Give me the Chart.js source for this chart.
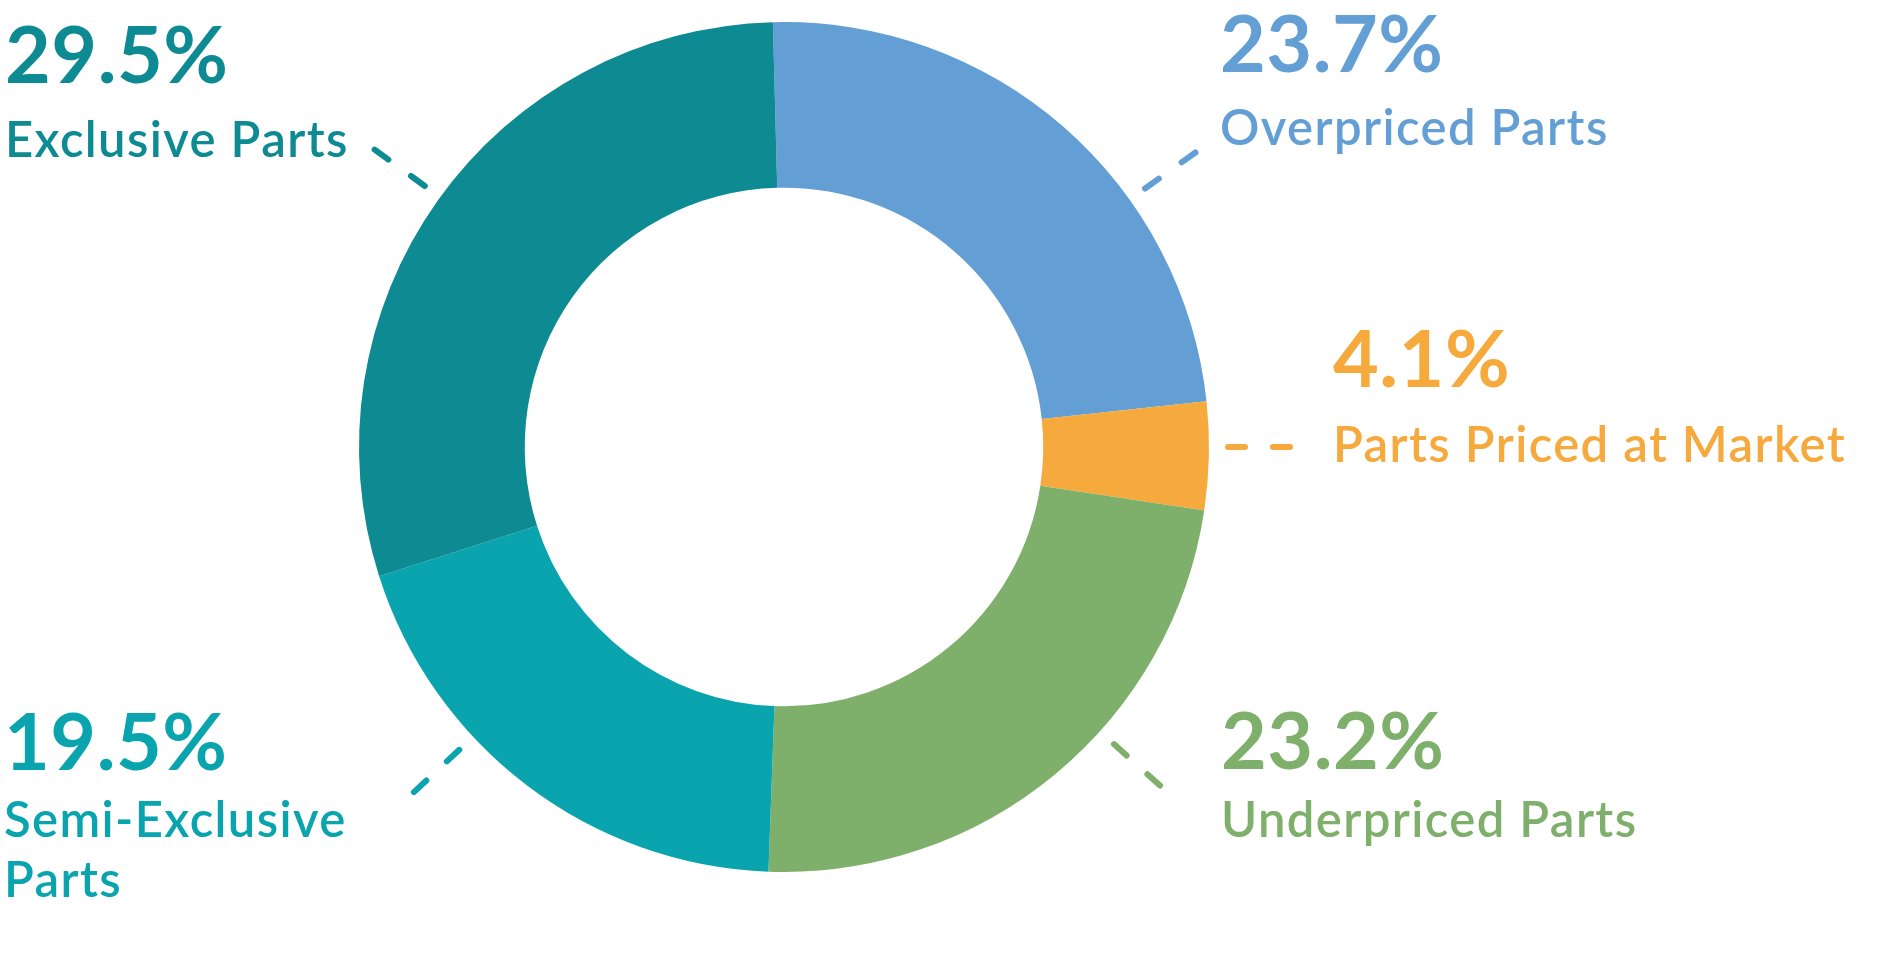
<!DOCTYPE html>
<html>
<head>
<meta charset="utf-8">
<title>Parts pricing breakdown</title>
<script src="https://cdn.jsdelivr.net/npm/chart.js@4.4.1/dist/chart.umd.min.js"></script>
<style>
  html, body { margin: 0; padding: 0; background: #fff; }
  #wrap { position: relative; width: 1881px; height: 955px; }
</style>
</head>
<body>
<div id="wrap"><canvas id="partsChart"></canvas></div>
<script>
// data, clockwise from 12 o'clock
var categories = ['Overpriced Parts', 'Parts Priced at Market', 'Underpriced Parts', ['Semi-Exclusive', 'Parts'], 'Exclusive Parts'];
var shares = [23.7, 4.1, 23.2, 19.5, 29.5];
var colors = ['#639fd4', '#f6a93c', '#7eaf6b', '#0aa4af', '#0d8a92'];

// callout layout: [x, percent baseline, label baseline] and leader angle (deg, clockwise from top)
var calloutPos = [[1220, 72, 145], [1333, 387, 462], [1221, 769, 837], [4, 770, 837], [5, 83, 157]];
var leaderAngles = [54.4, 90, 132, 227, 306];

var callouts = {
    id: 'callouts',
    afterDraw: function (chart) {
        var ctx = chart.ctx;
        var meta = chart.getDatasetMeta(0);
        var cx = meta.data[0].x, cy = meta.data[0].y, r = meta.data[0].outerRadius;
        ctx.save();
        meta.data.forEach(function (el, i) {
            var a = (leaderAngles[i] - 90) * Math.PI / 180;
            var r0 = r + 19, r1 = r + 81;
            ctx.strokeStyle = colors[i];
            ctx.lineWidth = 6;
            ctx.lineCap = 'round';
            ctx.setLineDash([17, 28]);
            ctx.beginPath();
            ctx.moveTo(cx + r0 * Math.cos(a), cy + r0 * Math.sin(a));
            ctx.lineTo(cx + r1 * Math.cos(a), cy + r1 * Math.sin(a));
            ctx.stroke();
            ctx.setLineDash([]);

            var pos = calloutPos[i];
            ctx.fillStyle = colors[i];
            ctx.textAlign = 'left';
            ctx.textBaseline = 'alphabetic';
            ctx.font = '700 79px Lato';
            ctx.letterSpacing = '0.5px';
            ctx.fillText(shares[i].toFixed(1) + '%', pos[0], pos[1]);

            ctx.font = '600 49px Lato';
            ctx.letterSpacing = '1.4px';
            var lines = [].concat(categories[i]);
            lines.forEach(function (line, j) {
                ctx.fillText(line, pos[0], pos[2] + j * 60);
            });
        });
        ctx.restore();
    }
};

var chart = new Chart(document.getElementById('partsChart'), {
    type: 'doughnut',
    data: {
        labels: categories,
        datasets: [{
            data: shares,
            backgroundColor: colors,
            hoverBackgroundColor: colors,
            borderWidth: 0
        }]
    },
    options: {
        responsive: true,
        maintainAspectRatio: false,
        animation: false,
        cutout: '61%',
        rotation: -1.5,
        layout: { padding: { left: 359, top: 22, right: 672, bottom: 83 } },
        plugins: {
            legend: { display: false },
            tooltip: { enabled: false }
        }
    },
    plugins: [callouts]
});
</script>
</body>
</html>
